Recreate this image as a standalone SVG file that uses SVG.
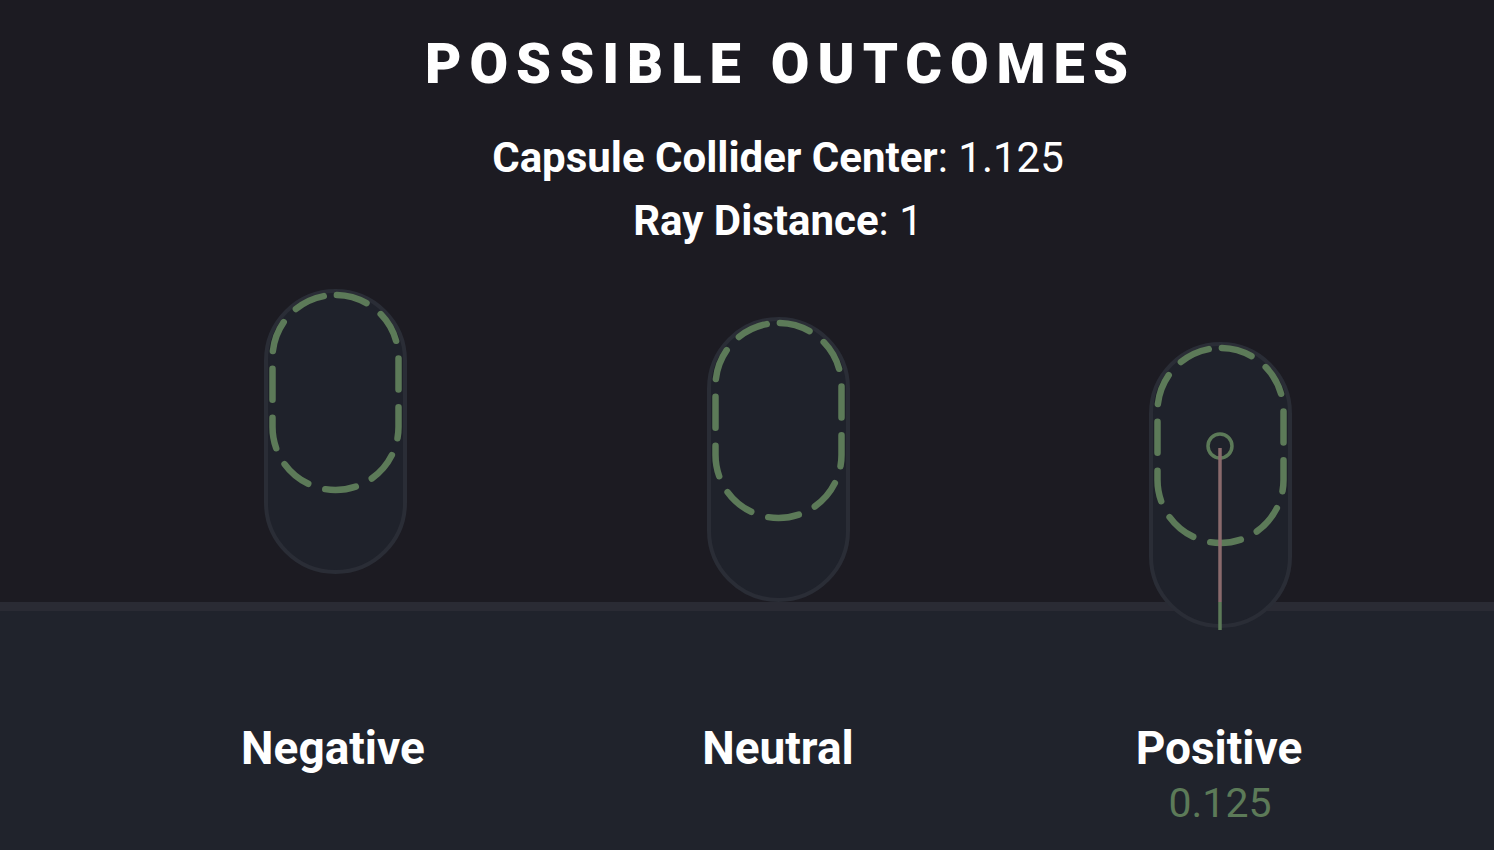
<svg xmlns="http://www.w3.org/2000/svg" width="1494" height="850" viewBox="0 0 1494 850">
<style>
.t{font-family:Roboto,"Liberation Sans",sans-serif;fill:#ffffff}
.b{font-weight:700}
.r{font-weight:400}
.outer{fill:#1f222b;stroke:#2a2d36;stroke-width:4}
.dash{fill:none;stroke:#5c7a58;stroke-width:6.5;stroke-linecap:round;stroke-dasharray:31 17.9;stroke-dashoffset:47.5}
</style>
<rect x="0" y="0" width="1494" height="850" fill="#1c1b22"/>
<g id="ground">
<rect x="0" y="602" width="1494" height="248" fill="#20232c"/>
<rect x="0" y="602" width="1494" height="9" fill="#2a2b34"/>
</g>
<text id="title" class="t" x="425" y="83" font-size="56" font-weight="900" textLength="703" lengthAdjust="spacing">POSSIBLE OUTCOMES</text>
<text id="sub1" class="t" x="778" y="172" font-size="42" text-anchor="middle"><tspan class="b">Capsule Collider Center</tspan><tspan class="r">: 1.125</tspan></text>
<text id="sub2" class="t" x="778" y="235" font-size="42" text-anchor="middle"><tspan class="b">Ray Distance</tspan><tspan class="r">: 1</tspan></text>
<g id="negative">
<rect class="outer" x="266" y="291" width="139" height="281" rx="69.5"/>
<path class="dash" d="M335.5,295 A63,63 0 0 1 398.5,358 V427 A63,63 0 0 1 335.5,490 A63,63 0 0 1 272.5,427 V358 A63,63 0 0 1 335.5,295 Z"/>
<text class="t b" x="333" y="764" font-size="46" text-anchor="middle">Negative</text>
</g>
<g id="neutral">
<rect class="outer" x="709" y="319" width="139" height="281" rx="69.5"/>
<path class="dash" d="M778.5,323 A63,63 0 0 1 841.5,386 V455 A63,63 0 0 1 778.5,518 A63,63 0 0 1 715.5,455 V386 A63,63 0 0 1 778.5,323 Z"/>
<text class="t b" x="778" y="764" font-size="46" text-anchor="middle">Neutral</text>
</g>
<g id="positive">
<rect class="outer" x="1151" y="344" width="139" height="282" rx="69.5"/>
<path class="dash" d="M1220.5,348 A63,63 0 0 1 1283.5,411 V480 A63,63 0 0 1 1220.5,543 A63,63 0 0 1 1157.5,480 V411 A63,63 0 0 1 1220.5,348 Z"/>
<text class="t b" x="1219" y="764" font-size="46" text-anchor="middle">Positive</text>
<text class="t r" x="1220" y="817" font-size="41" text-anchor="middle" style="fill:#5c7a58">0.125</text>
</g>
<g id="connectors">
<circle cx="1220" cy="446" r="12" fill="none" stroke="#5c7a58" stroke-width="3.5"/>
<line x1="1220" y1="448" x2="1220" y2="602" stroke="#8a6a6c" stroke-width="3.5"/>
<line x1="1220" y1="602" x2="1220" y2="630" stroke="#5c7a58" stroke-width="3.5"/>
</g>
</svg>
